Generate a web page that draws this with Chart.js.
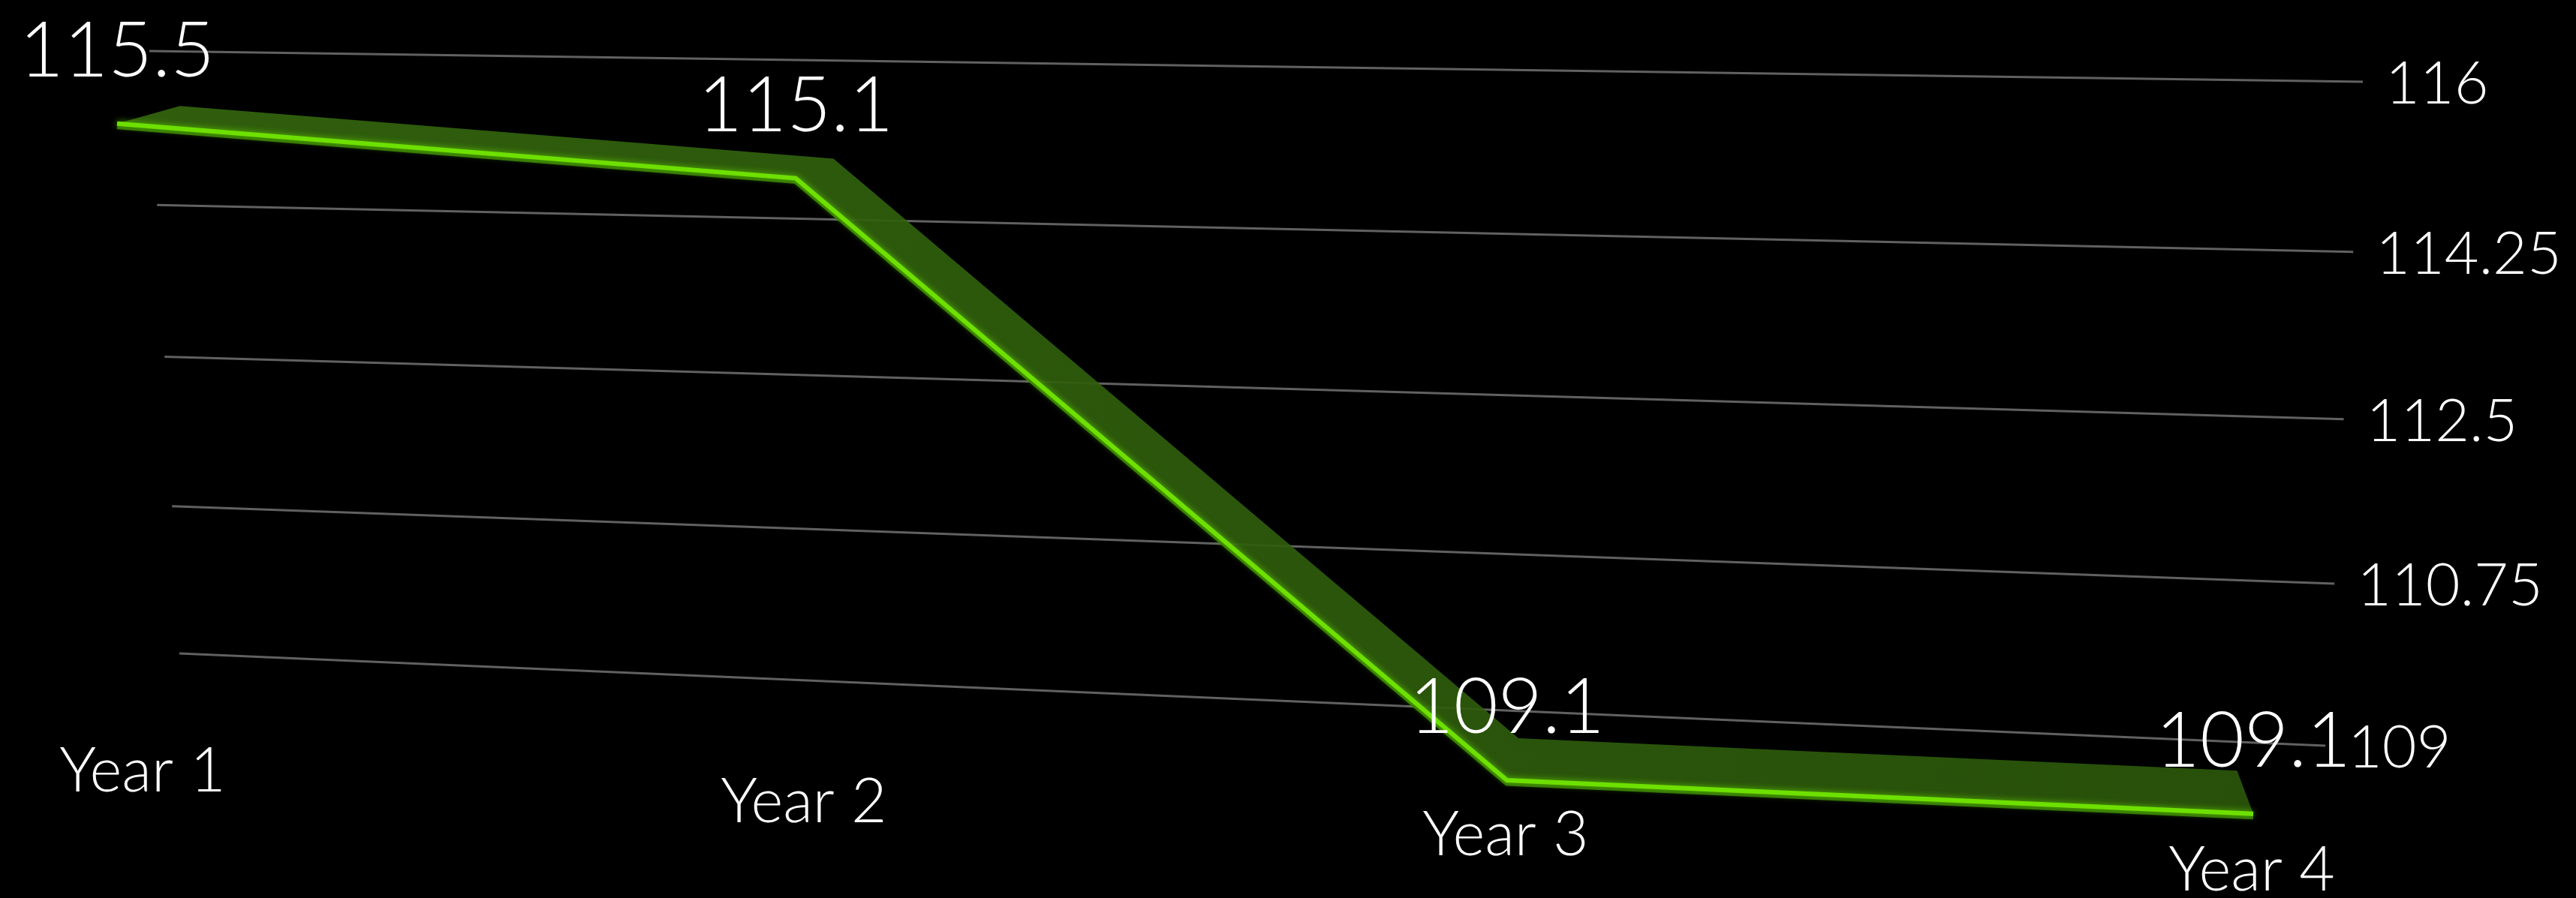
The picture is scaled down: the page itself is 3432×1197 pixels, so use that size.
<!DOCTYPE html>
<html>
<head>
<meta charset="utf-8">
<script src="https://cdn.jsdelivr.net/npm/chart.js@4.4.1/dist/chart.umd.min.js"></script>
<style>
  html, body { margin: 0; padding: 0; background: #000; }
  canvas { display: block; }
</style>
</head>
<body>
<canvas id="chart" width="3432" height="1197"></canvas>
<script>
const categories = ['Year 1', 'Year 2', 'Year 3', 'Year 4'];
const values = [115.5, 115.1, 109.1, 109.1];
const valueLabels = ['115.5', '115.1', '109.1', '109.1'];
const yTicks = [109, 110.75, 112.5, 114.25, 116];
const yTickLabels = ['109', '110.75', '112.5', '114.25', '116'];

const FONT = '"Lato", "Open Sans", sans-serif';

// maps the unit square (u right, v up) onto a quad: corners u0v0, u1v0, u1v1, u0v1
function quadMap(p0, p1, p2, p3) {
  const dx1 = p1[0] - p2[0], dx2 = p3[0] - p2[0], dx3 = p0[0] - p1[0] + p2[0] - p3[0];
  const dy1 = p1[1] - p2[1], dy2 = p3[1] - p2[1], dy3 = p0[1] - p1[1] + p2[1] - p3[1];
  const den = dx1 * dy2 - dx2 * dy1;
  const g = (dx3 * dy2 - dx2 * dy3) / den;
  const h = (dx1 * dy3 - dx3 * dy1) / den;
  const a = p1[0] - p0[0] + g * p1[0], b = p3[0] - p0[0] + h * p3[0], c = p0[0];
  const d = p1[1] - p0[1] + g * p1[1], e = p3[1] - p0[1] + h * p3[1], f = p0[1];
  return (u, v) => {
    const w = g * u + h * v + 1;
    return { x: (a * u + b * v + c) / w, y: (d * u + e * v + f) / w };
  };
}

// perspective position along a segment
function proj1(a, b, g, u) {
  return (a + (b * (1 + g) - a) * u) / (1 + g * u);
}

// back wall (gridlines) and front face of the ribbon
const gridPlane = quadMap([239, 871], [3098, 994], [3148, 109], [199, 68]);
const frontPlane = quadMap([156, 969], [3002, 1098], [3002, 168], [156, 103]);
const depthVP = { x: 2421, y: -471 };
const depthK = 0.963;

function norm(chart, px, py) {
  const a = chart.chartArea;
  return { u: (px - a.left) / a.width, v: (a.bottom - py) / a.height };
}

const perspective = {
  id: 'perspective',
  afterDatasetsUpdate(chart) {
    chart.getDatasetMeta(0).data.forEach(pt => {
      const n = norm(chart, pt.x, pt.y);
      const p = frontPlane(n.u, n.v);
      pt.x = p.x;
      pt.y = p.y;
    });
  },
  beforeDatasetsDraw(chart) {
    const ctx = chart.ctx;
    const ys = chart.scales.y;
    const xs = chart.scales.x;
    const u0 = norm(chart, xs.getPixelForValue(0), 0).u;
    const u1 = norm(chart, xs.getPixelForValue(categories.length - 1), 0).u;

    ctx.save();
    ctx.strokeStyle = '#616161';
    ctx.lineWidth = 3;
    yTicks.forEach(t => {
      const v = norm(chart, 0, ys.getPixelForValue(t)).v;
      const a = gridPlane(u0, v), b = gridPlane(u1, v);
      ctx.beginPath();
      ctx.moveTo(a.x, a.y);
      ctx.lineTo(b.x, b.y);
      ctx.stroke();
    });

    const pts = chart.getDatasetMeta(0).data;
    const back = pts.map(p => ({
      x: depthVP.x + (p.x - depthVP.x) * depthK,
      y: depthVP.y + (p.y - depthVP.y) * depthK
    }));

    // top face of the ribbon
    const grad = ctx.createLinearGradient(0, 0, chart.width, 0);
    grad.addColorStop(0, 'rgba(52, 102, 14, 0.93)');
    grad.addColorStop(0.5, 'rgba(46, 92, 12, 0.93)');
    grad.addColorStop(1, 'rgba(42, 84, 10, 0.93)');
    ctx.fillStyle = grad;
    ctx.beginPath();
    pts.forEach((p, i) => i ? ctx.lineTo(p.x, p.y) : ctx.moveTo(p.x, p.y));
    for (let i = back.length - 1; i >= 0; i--) ctx.lineTo(back[i].x, back[i].y);
    ctx.closePath();
    ctx.fill();

    // thin front face under the bright edge
    ctx.strokeStyle = '#2f6a05';
    ctx.lineWidth = 7;
    ctx.lineJoin = 'miter';
    ctx.beginPath();
    pts.forEach((p, i) => i ? ctx.lineTo(p.x, p.y + 4) : ctx.moveTo(p.x, p.y + 4));
    ctx.stroke();
    ctx.restore();
  },
  beforeDatasetDraw(chart) {
    const ctx = chart.ctx;
    ctx.save();
    ctx.shadowColor = 'rgba(110, 235, 0, 0.7)';
    ctx.shadowBlur = 8;
  },
  afterDatasetDraw(chart) {
    chart.ctx.restore();
  },
  afterDatasetsDraw(chart) {
    const ctx = chart.ctx;
    const ys = chart.scales.y;
    const xs = chart.scales.x;
    const pts = chart.getDatasetMeta(0).data;
    ctx.save();
    ctx.fillStyle = '#ffffff';

    // value labels
    ctx.font = '300 102px ' + FONT;
    ctx.textAlign = 'center';
    ctx.textBaseline = 'alphabetic';
    pts.forEach((p, i) => {
      ctx.fillText(valueLabels[i], p.x, p.y - 100 + 37);
    });

    // value axis on the right edge of the back wall
    ctx.font = '300 79px ' + FONT;
    ctx.textAlign = 'left';
    const u1 = norm(chart, xs.getPixelForValue(categories.length - 1), 0).u;
    yTicks.forEach((t, i) => {
      const v = norm(chart, 0, ys.getPixelForValue(t)).v;
      const b = gridPlane(u1, v);
      ctx.fillText(yTickLabels[i], b.x + 30, b.y + 29);
    });

    // category labels
    ctx.font = '300 82px ' + FONT;
    ctx.textAlign = 'center';
    categories.forEach((c, i) => {
      const u = norm(chart, xs.getPixelForValue(i), 0).u;
      const x = proj1(190, 3000, -0.0866, u);
      const y = proj1(1025, 1157, -0.0866, u);
      ctx.fillText(c, x, y + 30);
    });
    ctx.restore();
  }
};

new Chart(document.getElementById('chart').getContext('2d'), {
  type: 'line',
  data: {
    labels: categories,
    datasets: [{
      data: values,
      borderColor: '#6ee000',
      borderWidth: 6,
      borderJoinStyle: 'miter',
      borderCapStyle: 'butt',
      pointRadius: 0,
      tension: 0,
      clip: false
    }]
  },
  options: {
    responsive: false,
    animation: false,
    devicePixelRatio: 1,
    layout: { padding: 0 },
    plugins: { legend: { display: false }, tooltip: { enabled: false } },
    scales: {
      x: { type: 'category', display: false },
      y: { display: false, min: 109, max: 116, ticks: { stepSize: 1.75 } }
    }
  },
  plugins: [perspective]
});
</script>
</body>
</html>
